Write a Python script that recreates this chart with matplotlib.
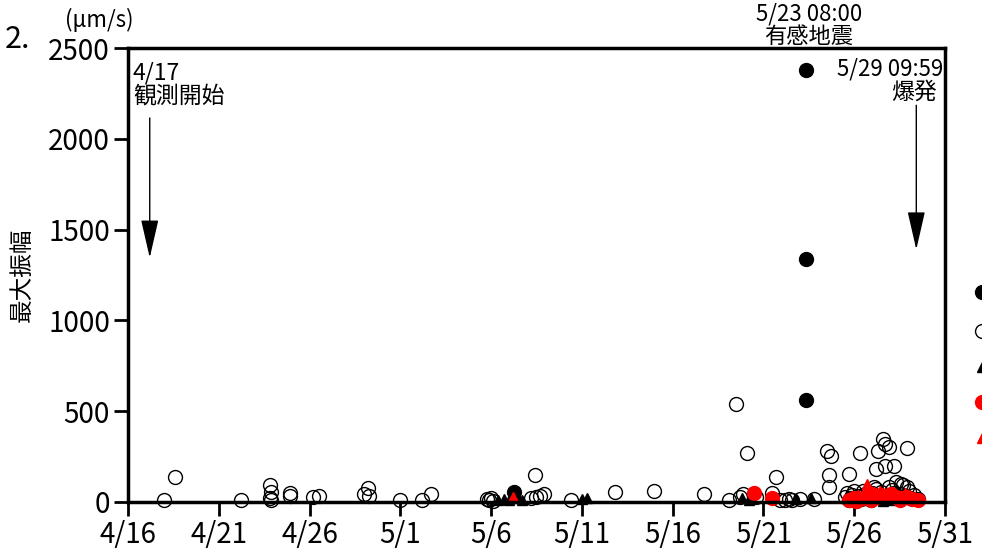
import matplotlib
matplotlib.use("Agg")
import matplotlib.pyplot as plt

plt.rcParams['font.family'] = ['Noto Sans CJK JP', 'DejaVu Sans']

# x: 4/16 からの経過日数, y: 最大振幅 (μm/s)
tick_days = [0, 5, 10, 15, 20, 25, 30, 35, 40, 45]
tick_labels = ["4/16", "4/21", "4/26", "5/1", "5/6", "5/11", "5/16", "5/21", "5/26", "5/31"]
y_ticks = [0, 500, 1000, 1500, 2000, 2500]

open_x = [2.0, 2.6, 6.2, 7.8, 7.9, 7.8, 7.9, 8.9, 8.9, 10.2, 10.5, 13.0, 13.2, 13.3, 15.0, 16.2, 16.7,
          19.8, 20.0, 19.9, 20.1, 22.4, 22.5, 22.7, 22.9, 22.2,
          24.4, 26.8, 29.0, 31.7, 33.1, 33.5, 34.1, 33.9, 33.7, 34.6,
          35.5, 35.7, 35.9, 36.2, 36.4, 36.6, 37.0, 37.8,
          38.5, 38.7, 38.6, 38.6, 39.7, 40.3, 41.3, 41.2, 41.1, 41.6, 41.7, 41.9, 42.9, 41.7, 42.2,
          41.9, 40.5, 42.3, 42.6, 42.7, 42.2,
          39.5, 39.6, 39.8, 39.9, 40.0, 40.2, 40.4, 40.6, 40.8, 41.0, 41.2, 41.4, 41.5, 41.8,
          42.0, 42.1, 42.4, 42.5, 42.8, 43.0, 43.1, 43.3, 43.5, 39.7, 40.1, 40.9, 42.9]
open_y = [10, 140, 10, 95, 55, 20, 10, 50, 35, 25, 35, 45, 75, 35, 10, 10, 45,
          15, 20, 10, 5, 150, 25, 35, 45, 20,
          10, 55, 60, 45, 10, 540, 270, 45, 25, 30,
          50, 140, 10, 10, 15, 10, 15, 15,
          280, 255, 150, 80, 155, 270, 280, 180, 85, 345, 320, 305, 300, 200, 200,
          85, 60, 110, 100, 95, 50,
          30, 50, 20, 40, 60, 35, 15, 45, 25, 50, 70, 30, 55, 20,
          40, 65, 25, 45, 35, 60, 20, 40, 15, 10, 5, 10, 80]

black_x = [21.25, 37.33, 37.33, 37.33]
black_y = [55, 560, 1340, 2380]

btri_x = [20.4, 20.7, 21.0, 21.5, 21.7, 25.0, 25.3, 33.8, 34.2, 36.8, 37.6, 41.6, 42.1, 40.5]
btri_y = [10, 15, 10, 20, 10, 15, 20, 20, 10, 15, 20, 5, 10, 10]

red_x = [34.5, 35.5, 39.7, 40.0, 40.3, 40.6, 40.9, 41.2, 41.5, 41.8, 42.0, 42.3, 42.6, 42.9,
         43.2, 43.5, 40.1, 41.0, 42.5]
red_y = [50, 20, 10, 20, 15, 30, 10, 25, 40, 35, 45, 30, 20, 25, 15, 10, 5, 45, 10]

rtri_x = [21.2, 40.7, 40.2, 41.4, 42.0, 42.8, 40.9, 43.3]
rtri_y = [25, 100, 40, 60, 30, 50, 15, 20]

fig = plt.figure(figsize=(9.82, 5.55), dpi=100)
ax = fig.add_axes([0.1303, 0.0955, 0.832, 0.818])

ms = 10
ts = 7.5
ax.plot(open_x, open_y, 'o', ms=ms, mfc='none', mec='black', mew=1.0, clip_on=False)
ax.plot(black_x, black_y, 'o', ms=ms, color='black', clip_on=False)
ax.plot(btri_x, btri_y, '^', ms=ts, color='black', clip_on=False)
ax.plot(red_x, red_y, 'o', ms=ms, color='red', clip_on=False)
ax.plot(rtri_x, rtri_y, '^', ms=ts, color='red', clip_on=False)

ax.set_xlim(0, 45)
ax.set_ylim(0, 2500)
ax.set_xticks(tick_days)
ax.set_xticklabels(tick_labels)
ax.set_yticks(y_ticks)
ax.tick_params(axis='both', labelsize=20, width=2, length=10, direction='out', pad=3)
for s in ax.spines.values():
    s.set_linewidth(2.5)

ax.set_ylabel("最大振幅", fontsize=17, labelpad=10)

# 凡例マーカー（右端で切れている）
leg_y = [(502 - p) / 454 for p in [292, 331, 367, 402, 438]]
leg_styles = [('o', 'black', 'black', ms), ('o', 'none', 'black', ms), ('^', 'black', 'black', ts),
              ('o', 'red', 'red', ms), ('^', 'red', 'red', ts)]
for yy, (m, fc, ec, sz) in zip(leg_y, leg_styles):
    ax.plot([1.0453], [yy], m, ms=sz, mfc=fc, mec=ec, mew=1.0,
            transform=ax.transAxes, clip_on=False)

# 注記
ax.text(0.006, 0.97, "4/17\n観測開始", transform=ax.transAxes, fontsize=16.5,
        va='top', ha='left', linespacing=1.0)
ax.annotate("", xy=(1.2, 1330), xytext=(1.2, 2130),
            arrowprops=dict(arrowstyle="-|>,head_length=2.4,head_width=0.55", color='black', lw=1.0))
ax.annotate("", xy=(43.42, 1375), xytext=(43.42, 2200),
            arrowprops=dict(arrowstyle="-|>,head_length=2.4,head_width=0.55", color='black', lw=1.0))
ax.text(37.5, 2500, "5/23 08:00\n有感地震", fontsize=16, ha='center', va='bottom',
        linespacing=0.95)
ax.text(44.9, 2450, "5/29 09:59", fontsize=16, ha='right', va='top')
ax.text(43.3, 2320, "爆発", fontsize=16.5, ha='center', va='top')

fig.text(0.005, 0.9, "2.", fontsize=22, ha='left', va='bottom')
fig.text(0.066, 0.943, "(μm/s)", fontsize=16, ha='left', va='bottom')

fig.savefig("out.png", dpi=100)
